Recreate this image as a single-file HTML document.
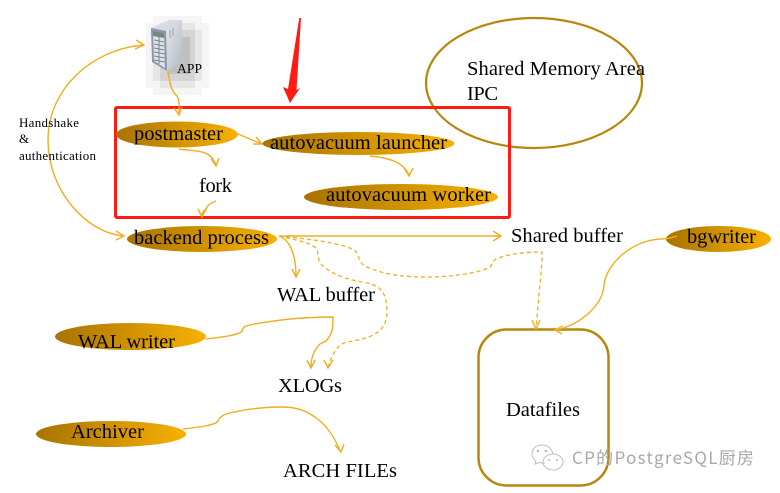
<!DOCTYPE html>
<html>
<head>
<meta charset="utf-8">
<style>
html,body{margin:0;padding:0;background:#fff;width:780px;height:493px;overflow:hidden}
svg{display:block}
text{font-family:"Liberation Serif","Noto Serif CJK SC",serif;font-size:20.5px;fill:#000}
.c{fill:none;stroke:#f0ae1e;stroke-width:1.4}
.d{fill:none;stroke:#f0ae1e;stroke-width:1.3;stroke-dasharray:4 3}
</style>
</head>
<body>
<svg width="780" height="493" viewBox="0 0 780 493" xmlns="http://www.w3.org/2000/svg">
<defs>
<linearGradient id="g" x1="0" y1="0" x2="1" y2="0">
<stop offset="0" stop-color="#a87300"/>
<stop offset="1" stop-color="#f8b100"/>
</linearGradient>
<linearGradient id="s1" x1="0" y1="0" x2="1" y2="1">
<stop offset="0" stop-color="#e4e8ee"/>
<stop offset="1" stop-color="#b4b8c2"/>
</linearGradient>
</defs>

<!-- server icon: pixelated shadow -->
<g fill="#000">
<polygon opacity=".04" points="153,16 202,16 202,23 209,23 209,88 202,88 202,95 153,95 153,88 146,88 146,23 153,23"/>
<polygon opacity=".06" points="160,23 195,23 195,30 202,30 202,81 195,81 195,88 160,88 160,81 153,81 153,30 160,30"/>
<polygon opacity=".08" points="160,30 195,30 195,81 160,81"/>
<polygon opacity=".09" points="167,37 190,37 190,74 167,74"/>
</g>
<polygon points="151,28 170,20 182,20 166,31" fill="#d6dae2"/>
<polygon points="166,31 182,20 182,60 167,71" fill="url(#s1)"/>
<polygon points="151,28 166,31 167,71 152,62" fill="#8c96a4"/>
<polygon points="153,31 164,33 165,68 154,61" fill="#dfe3e8"/>
<polygon points="153,31 164,33 164,38 153,36" fill="#6d8a7c"/>
<g stroke="#7a8494" stroke-width="1">
<line x1="154" y1="40" x2="164" y2="42"/><line x1="154" y1="44" x2="164" y2="46"/>
<line x1="154" y1="48" x2="164" y2="50"/><line x1="154" y1="52" x2="165" y2="54"/>
<line x1="154" y1="56" x2="165" y2="58"/><line x1="154" y1="60" x2="165" y2="62"/>
<line x1="159" y1="37" x2="159" y2="64"/>
</g>
<line x1="170" y1="30" x2="170" y2="38" stroke="#9aa0aa" stroke-width="1"/>
<line x1="173" y1="28" x2="173" y2="36" stroke="#9aa0aa" stroke-width="1"/>
<text x="177" y="73" style="font-size:13.5px" textLength="25">APP</text>

<!-- shared memory -->
<ellipse cx="534" cy="83" rx="108" ry="65" fill="#fff" stroke="#b8860b" stroke-width="2.2"/>
<text x="467" y="75" textLength="178">Shared Memory Area</text>
<text x="467" y="100" textLength="31">IPC</text>

<!-- red box & arrow -->
<rect x="115.5" y="107.5" width="394" height="110" rx="1.5" fill="none" stroke="#ff1a12" stroke-width="3"/>
<polygon points="301,18 299.3,18 288,89 283,87 290,103 300,88 296.5,90" fill="#ff1a12"/>

<!-- ellipses -->
<g fill="url(#g)">
<ellipse cx="177" cy="134.5" rx="61" ry="13"/>
<ellipse cx="358.5" cy="143.5" rx="96" ry="11.5"/>
<ellipse cx="401" cy="197" rx="97" ry="13"/>
<ellipse cx="202" cy="239" rx="75" ry="13"/>
<ellipse cx="130.5" cy="336.5" rx="75.5" ry="13.5"/>
<ellipse cx="111" cy="434" rx="75" ry="13"/>
<ellipse cx="718.5" cy="239" rx="52.5" ry="13"/>
</g>

<!-- datafiles -->
<rect x="478.5" y="329.5" width="130" height="156" rx="28" fill="#fff" stroke="#b8860b" stroke-width="2.5"/>

<!-- connectors -->
<path class="c" d="M168 72C170 85 172 92 177 96C180 100 179 108 179 114"/>
<path class="c" d="M174 108L179 115L182 107"/>
<path class="c" d="M143 45C90 50 48 90 48 140C48 190 85 232 123 236"/>
<path class="c" d="M136 40L144 45L135 49"/>
<path class="c" d="M116 231L124 236L116 240"/>
<path class="c" d="M238 134L262 144"/>
<path class="c" d="M253 144L262 144L256 137"/>
<path class="c" d="M179 149C195 152 210 148 216 165"/>
<path class="c" d="M211 159L216 166L219 158"/>
<path class="c" d="M216 201C205 205 208 208 205 210C202 212 202 214 202 217"/>
<path class="c" d="M198 209L202 217L206 209"/>
<path class="c" d="M370 156C390 158 403 162 409 175"/>
<path class="c" d="M404 168L409 176L413 168"/>
<path class="c" d="M279 236L501 236"/>
<path class="c" d="M493 231L501 236L493 241"/>
<path class="c" d="M279 236C290 240 296 255 296 276"/>
<path class="c" d="M292 269L296 277L300 269"/>
<path class="d" d="M279 236C320 240 352 245 357 253C360 258 358 262 365 266C385 276 410 277 427 277C450 277 480 273 490 267C493 264 491 262 496 259C510 253 530 252 542 252L542 262L536 328"/>
<path class="c" d="M532 320L536 329L540 320"/>
<path class="d" d="M279 236C295 240 315 243 317 250C319 255 317 260 322 265C332 275 350 280 362 282C375 284 382 288 385 297C388 310 388 320 382 328C375 337 360 340 347 342C337 344 332 355 328 367"/>
<path class="c" d="M324 360L328 368L333 360"/>
<path class="c" d="M206 339C222 337 240 335 242 331C243 327 245 326 250 325C280 319 310 317 333 317C333 325 333 332 329 337C326 343 322 342 320 344C314 350 311 358 311 367"/>
<path class="c" d="M307 360L311 368L315 360"/>
<path class="c" d="M183 429C200 427 216 425 218 421C219 418 221 416 226 414C245 409 265 407 283 407C310 407 330 425 340 451"/>
<path class="c" d="M335 445L341 452L344 444"/>
<path class="c" d="M677 236C670 238 668 239 660 239C630 241 606 265 604 285C603 305 580 325 556 330"/>
<path class="c" d="M563 326L555 330L562 334"/>

<!-- labels -->
<text x="19" y="127" style="font-size:13px" textLength="60">Handshake</text>
<text x="19" y="143" style="font-size:13px">&amp;</text>
<text x="19" y="160" style="font-size:13px" textLength="77">authentication</text>
<text x="134" y="140" textLength="89">postmaster</text>
<text x="270" y="149" textLength="177">autovacuum launcher</text>
<text x="326" y="201" textLength="165">autovacuum worker</text>
<text x="199" y="192" textLength="33">fork</text>
<text x="134" y="244" textLength="135">backend process</text>
<text x="511" y="242" textLength="112">Shared buffer</text>
<text x="277" y="301" textLength="98">WAL buffer</text>
<text x="78" y="348" textLength="97">WAL writer</text>
<text x="278" y="392" textLength="64">XLOGs</text>
<text x="71" y="438" textLength="73">Archiver</text>
<text x="283" y="477" textLength="114">ARCH FILEs</text>
<text x="506" y="416" textLength="74">Datafiles</text>
<text x="687" y="243" textLength="69">bgwriter</text>

<!-- watermark -->
<g fill="none" stroke="#bdbdbd" stroke-width="1">
<path d="M542 445C536 445 532 449 532 454C532 457 534 459 536 461L535 464L539 462.5C541 463 543 463 545 463"/>
<path d="M542 445C548 445 552 449 553 454" />
<ellipse cx="553" cy="462" rx="10" ry="8"/>
</g>
<g fill="#b5b5b5">
<circle cx="538" cy="451" r="1.2"/><circle cx="546" cy="451" r="1.2"/>
<circle cx="549" cy="460" r="1"/><circle cx="557" cy="460" r="1"/>
</g>
<text x="572" y="464" textLength="182" style="font-family:'Noto Sans CJK SC','Liberation Sans',sans-serif;font-size:17px;fill:#a8a8a8">CP的PostgreSQL厨房</text>
</svg>
</body>
</html>
